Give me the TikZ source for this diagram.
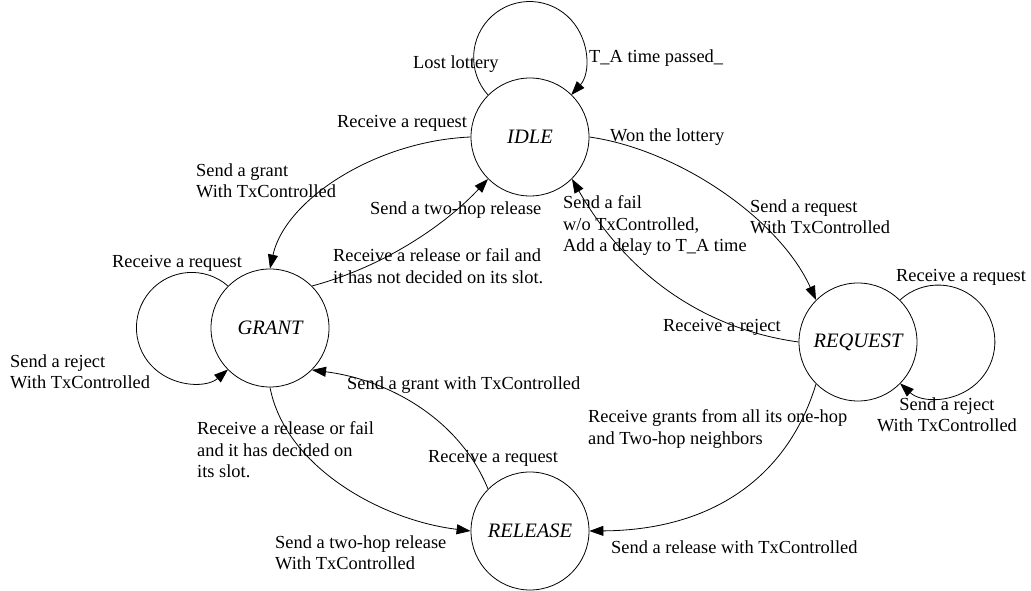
\documentclass[tikz,border=0pt]{standalone}
\usepackage{fontspec}
\setmainfont{Liberation Serif}
\usetikzlibrary{arrows.meta}
\begin{document}
\begin{tikzpicture}[x=1pt,y=1pt,
  state/.style={draw, circle, line width=0.8pt, minimum size=118pt, inner sep=0pt, font=\fontsize{20.5}{24}\selectfont\itshape},
  lbl/.style={inner sep=0pt, anchor=west, align=left, font=\fontsize{18.4}{21.5}\selectfont},
  clbl/.style={inner sep=0pt, align=center, font=\fontsize{18.4}{21.5}\selectfont},
  edge/.style={line width=0.8pt, -{Triangle[length=14pt,width=10pt]}}]
\useasboundingbox (0,0) rectangle (1031,591);
% states
\node[state] (idle) at (530,454) {IDLE};
\node[state] (grant) at (270,263) {GRANT};
\node[state] (request) at (858,249) {REQUEST};
\node[state] (release) at (530,60) {RELEASE};
% self loops
\draw[edge] (idle.135) arc[start angle=222, end angle=-42, radius=56];
\draw[edge] (grant.135) arc[start angle=49, end angle=311, radius=55.3];
\draw[edge] (request.45) arc[start angle=132.6, end angle=-132.6, radius=56.6];
% transitions
\draw[edge] (idle.west) .. controls (375,450) and (285,391) .. (grant.north);
\draw[edge] (grant.45) .. controls (390,326) and (450,371) .. (idle.225);
\draw[edge] (idle.east) .. controls (680,441) and (780,371) .. (request.135);
\draw[edge] (request.west) .. controls (710,261) and (630,311) .. (idle.-45);
\draw[edge] (grant.south) .. controls (285,125) and (380,71) .. (release.west);
\draw[edge] (release.135) .. controls (460,171) and (390,211) .. (grant.-45);
\draw[edge] (request.225) .. controls (790,121) and (720,61) .. (release.east);
% labels
\node[lbl] (l1) at (413,527) {Lost lottery};
\node[lbl] (l2) at (589,533) {T\_A time passed\_};
\node[lbl] (l3) at (337,468) {Receive a request};
\node[lbl] (l4) at (610,454) {Won the lottery};
\node[lbl] (l5) at (196,410) {Send a grant\\With TxControlled};
\node[lbl] (l6) at (370,381) {Send a two-hop release};
\node[lbl] (l7) at (333,325) {Receive a release or fail and\\it has not decided on its slot.};
\node[lbl] (l8) at (563,365) {Send a fail\\w/o TxControlled,\\Add a delay to T\_A time};
\node[lbl] (l9) at (750,374) {Send a request\\With TxControlled};
\node[lbl] (l10) at (112,328) {Receive a request};
\node[lbl] (l11) at (896,314) {Receive a request};
\node[lbl] (l12) at (663,264) {Receive a reject};
\node[lbl] (l13) at (10,219) {Send a reject\\With TxControlled};
\node[lbl] (l14) at (347,206) {Send a grant with TxControlled};
\node[clbl] (l15) at (947,176) {Send a reject\\With TxControlled};
\node[lbl] (l16) at (197,141) {Receive a release or fail\\and it has decided on\\its slot.};
\node[lbl] (l17) at (588,162) {Receive grants from all its one-hop\\and Two-hop neighbors};
\node[lbl] (l18) at (428,133) {Receive a request};
\node[lbl] (l19) at (275,38) {Send a two-hop release\\With TxControlled};
\node[lbl] (l20) at (611,44) {Send a release with TxControlled};
\end{tikzpicture}
\end{document}
